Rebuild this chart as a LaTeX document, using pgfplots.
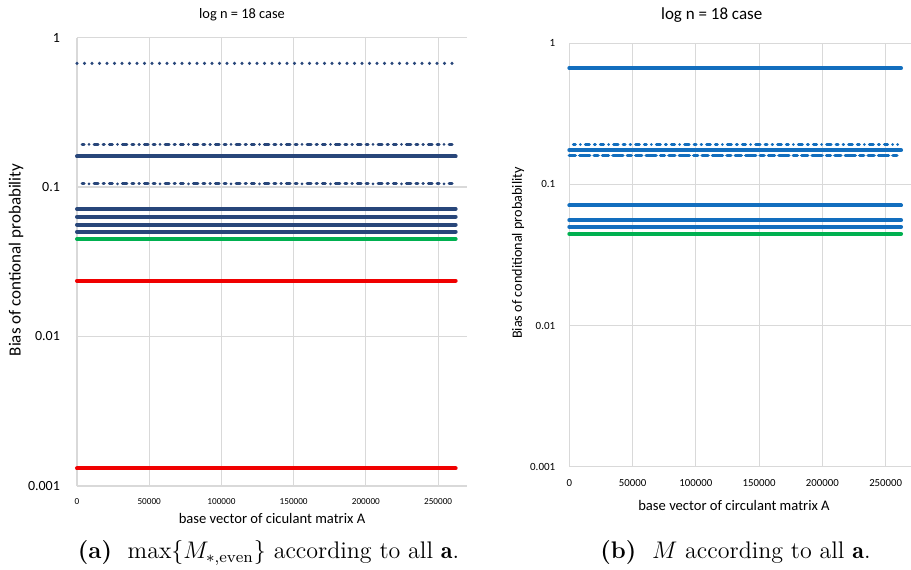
\documentclass[border=0pt]{standalone}
\usepackage{pgfplots}
\pgfplotsset{compat=1.18}
\usepackage{fontspec}
\newfontfamily\carlito{Carlito}

\definecolor{navy}{RGB}{40,70,122}
\definecolor{xlblue}{RGB}{18,110,190}
\definecolor{xlgreen}{RGB}{0,176,80}
\definecolor{xlred}{RGB}{240,0,0}
\definecolor{gridgray}{RGB}{217,217,217}

\tikzset{
  lsol/.style={line width=2pt, line cap=round},
  ldots/.style={line width=1.7pt, line cap=round, dash pattern=on 0pt off 3.75pt},
  lclus/.style={line width=1.5pt, line cap=round, dash pattern=
    on 1pt off 2.5pt on 0pt off 2.5pt on 2pt off 2.5pt on 0.6pt off 2.5pt
    on 1.6pt off 2.5pt on 0pt off 2.5pt on 2.2pt off 2.5pt on 1pt off 2.5pt
    on 0.3pt off 2.5pt on 1.8pt off 2.5pt},
  ldense/.style={line width=1.8pt, line cap=round, dash pattern=on 3pt off 2.2pt on 5pt off 2.2pt on 2pt off 2.2pt}}

\begin{document}
\begin{tikzpicture}
\path[use as bounding box] (0pt,0pt) rectangle (455.5pt,-284.5pt);

% (a) left chart
\begin{axis}[scale only axis,
  at={(38.5pt,-18.75pt)}, anchor=north west,
  width=195pt, height=224.25pt,
  ymode=log,
  xmin=0, xmax=270000, ymin=0.001, ymax=1,
  axis line style={draw=none},
  major tick length=0pt, minor tick length=0pt,
  xmajorgrids, ymajorgrids,
  grid style={gridgray, line width=0.6pt},
  xtick={0,50000,100000,150000,200000,250000},
  xticklabels={0,50000,100000,150000,200000,250000},
  xtick scale label code/.code={},
  ytick={0.001,0.01,0.1,1},
  yticklabels={0.001,0.01,0.1,1},
  clip=false,
  yticklabel style={font=\carlito\fontsize{7}{8}\selectfont, xshift=-5pt},
  xticklabel style={font=\carlito\fontsize{4.6}{5}\selectfont, yshift=-2.5pt}]
\addplot[navy, no marks, ldots] coordinates {(0,0.672) (262143,0.672)};
\addplot[navy, no marks, lclus] coordinates {(3500,0.193) (259700,0.193)};
\addplot[navy, no marks, lsol] coordinates {(0,0.160) (262143,0.160)};
\addplot[navy, no marks, lclus] coordinates {(3500,0.105) (259700,0.105)};
\addplot[navy, no marks, lsol] coordinates {(0,0.0713) (262143,0.0713)};
\addplot[navy, no marks, lsol] coordinates {(0,0.0633) (262143,0.0633)};
\addplot[navy, no marks, lsol] coordinates {(0,0.0560) (262143,0.0560)};
\addplot[navy, no marks, lsol] coordinates {(0,0.0502) (262143,0.0502)};
\addplot[xlgreen, no marks, lsol] coordinates {(0,0.0449) (262143,0.0449)};
\addplot[xlred, no marks, lsol] coordinates {(0,0.0236) (262143,0.0236)};
\addplot[xlred, no marks, lsol] coordinates {(0,0.00131) (262143,0.00131)};
\end{axis}

% (b) right chart
\begin{axis}[scale only axis,
  at={(284.65pt,-21.65pt)}, anchor=north west,
  width=170.85pt, height=211.7pt,
  ymode=log,
  xmin=0, xmax=270000, ymin=0.001, ymax=1,
  axis line style={draw=none},
  major tick length=0pt, minor tick length=0pt,
  xmajorgrids, ymajorgrids,
  grid style={gridgray, line width=0.6pt},
  xtick={0,50000,100000,150000,200000,250000},
  xticklabels={0,50000,100000,150000,200000,250000},
  xtick scale label code/.code={},
  ytick={0.001,0.01,0.1,1},
  yticklabels={0.001,0.01,0.1,1},
  clip=false,
  yticklabel style={font=\carlito\fontsize{5.5}{6}\selectfont, xshift=-3.5pt},
  xticklabel style={font=\carlito\fontsize{5.4}{6}\selectfont, yshift=-3pt}]
\addplot[xlblue, no marks, lsol] coordinates {(0,0.668) (262143,0.668)};
\addplot[xlblue, no marks, lclus] coordinates {(3150,0.192) (259500,0.192)};
\addplot[xlblue, no marks, lsol] coordinates {(0,0.175) (262143,0.175)};
\addplot[xlblue, no marks, ldense] coordinates {(0,0.160) (262143,0.160)};
\addplot[xlblue, no marks, lsol] coordinates {(0,0.071) (262143,0.071)};
\addplot[xlblue, no marks, lsol] coordinates {(0,0.0558) (262143,0.0558)};
\addplot[xlblue, no marks, lsol] coordinates {(0,0.0501) (262143,0.0501)};
\addplot[xlgreen, no marks, lsol] coordinates {(0,0.0447) (262143,0.0447)};
\end{axis}

\begin{scope}[x=0.5pt, y=-0.5pt]
\node[font=\carlito\fontsize{7.2}{8}\selectfont] at (242,15) {log n = 18 case};
\node[font=\carlito\fontsize{8.5}{9}\selectfont, rotate=90] at (16,260) {Bias of contional probability};
\node[font=\carlito\fontsize{7.3}{8}\selectfont] at (272,518) {base vector of ciculant matrix A};
\node[font=\fontsize{12}{14}\selectfont] at (268.5,553) {\textbf{(a)}\ \ $\max\{M_{*,\mathrm{even}}\}$ according to all $\mathbf{a}$.};

\node[font=\carlito\fontsize{8.5}{9}\selectfont] at (711.7,15) {log n = 18 case};
\node[font=\carlito\fontsize{7.1}{8}\selectfont, rotate=90] at (518,253) {Bias of conditional probability};
\node[font=\carlito\fontsize{7.3}{8}\selectfont] at (734,505) {base vector of circulant matrix A};
\node[font=\fontsize{12}{14}\selectfont] at (735.5,553) {\textbf{(b)}\ \ $M$ according to all $\mathbf{a}$.};
\end{scope}
\end{tikzpicture}
\end{document}
